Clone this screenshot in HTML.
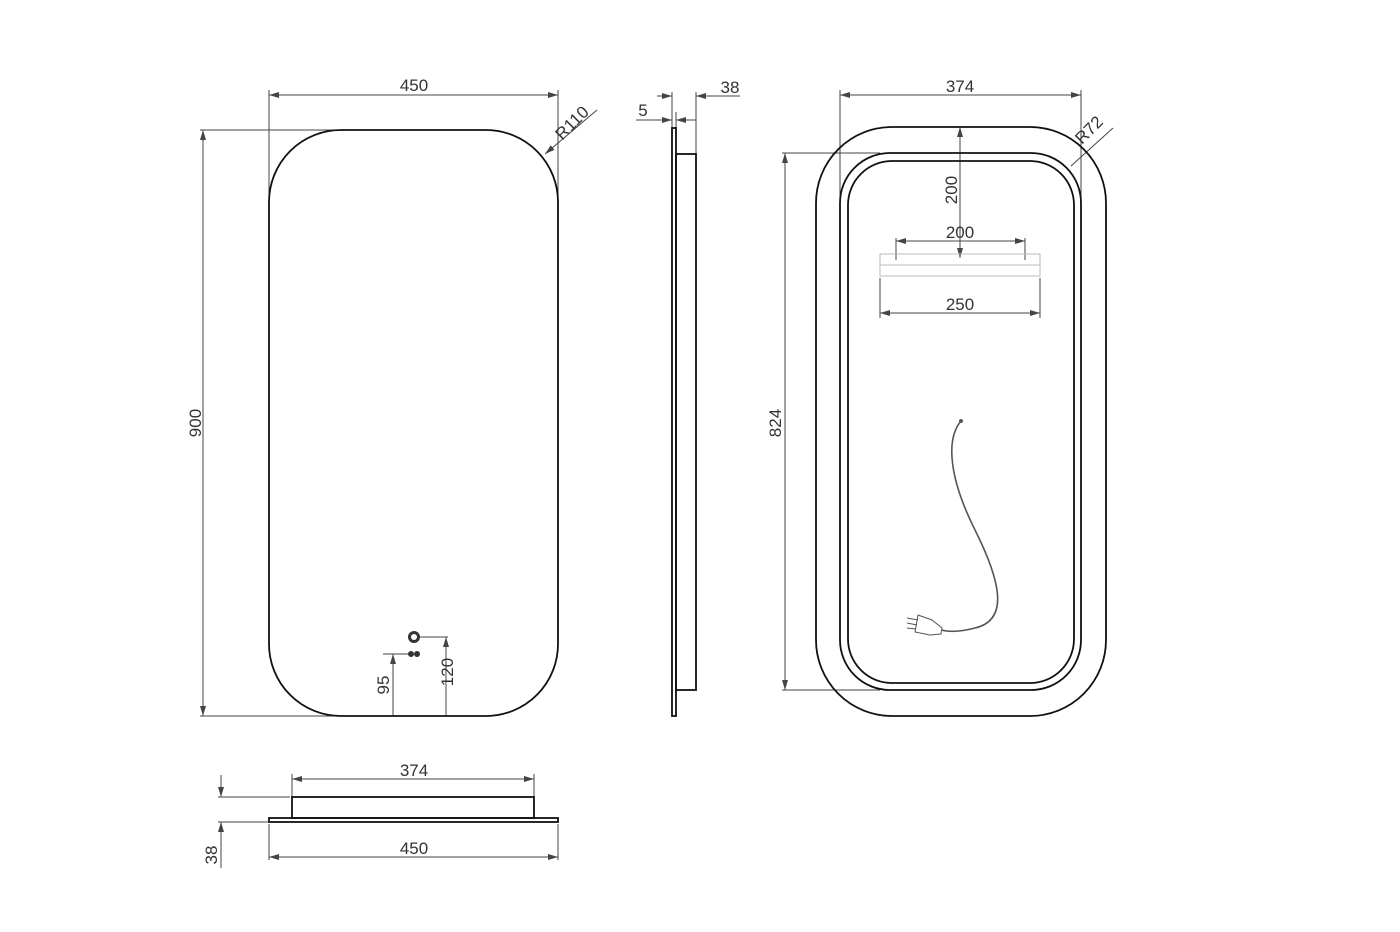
<!DOCTYPE html>
<html><head><meta charset="utf-8"><style>html,body{margin:0;padding:0;background:#fff}svg{display:block}</style></head>
<body>
<svg width="1400" height="932" viewBox="0 0 1400 932" xmlns="http://www.w3.org/2000/svg" font-family="Liberation Sans, sans-serif" font-size="17" fill="#333">
<defs>
<marker id="a" viewBox="0 0 10 6" refX="10" refY="3" markerWidth="10" markerHeight="6" orient="auto-start-reverse" markerUnits="userSpaceOnUse"><path d="M0,0 L10,3 L0,6 z" fill="#444"/></marker>
</defs>
<g stroke="#444" stroke-width="1" fill="none">
<line x1="269" y1="90" x2="269" y2="200"/><line x1="558" y1="90" x2="558" y2="200"/>
<line x1="269" y1="95" x2="558" y2="95" marker-start="url(#a)" marker-end="url(#a)"/>
<line x1="200" y1="130" x2="345" y2="130"/><line x1="200" y1="716" x2="345" y2="716"/>
<line x1="203" y1="130" x2="203" y2="716" marker-start="url(#a)" marker-end="url(#a)"/>
<line x1="597" y1="110" x2="545" y2="154" marker-end="url(#a)"/>
<line x1="383" y1="654" x2="410" y2="654"/><line x1="393" y1="654" x2="393" y2="716" marker-start="url(#a)"/>
<line x1="420" y1="637" x2="448" y2="637"/><line x1="446" y1="637" x2="446" y2="716" marker-start="url(#a)"/>
<line x1="672" y1="92" x2="672" y2="128"/><line x1="696" y1="92" x2="696" y2="154"/><line x1="676" y1="112" x2="676" y2="128"/>
<line x1="657" y1="96" x2="672" y2="96" marker-end="url(#a)"/><line x1="740" y1="96" x2="696" y2="96" marker-end="url(#a)"/>
<line x1="636" y1="120" x2="672" y2="120" marker-end="url(#a)"/><line x1="696" y1="120" x2="676" y2="120" marker-end="url(#a)"/>
<line x1="840" y1="90" x2="840" y2="200"/><line x1="1081" y1="90" x2="1081" y2="200"/>
<line x1="840" y1="95" x2="1081" y2="95" marker-start="url(#a)" marker-end="url(#a)"/>
<line x1="782" y1="153" x2="880" y2="153"/><line x1="782" y1="690" x2="880" y2="690"/>
<line x1="785" y1="153" x2="785" y2="690" marker-start="url(#a)" marker-end="url(#a)"/>
<line x1="1113" y1="128" x2="1071" y2="166"/>
<line x1="960" y1="127" x2="960" y2="258" marker-start="url(#a)" marker-end="url(#a)"/>
<line x1="896" y1="238" x2="896" y2="260"/><line x1="1025" y1="238" x2="1025" y2="260"/>
<line x1="896" y1="241" x2="1025" y2="241" marker-start="url(#a)" marker-end="url(#a)"/>
<line x1="880" y1="278" x2="880" y2="318"/><line x1="1040" y1="278" x2="1040" y2="318"/>
<line x1="880" y1="313" x2="1040" y2="313" marker-start="url(#a)" marker-end="url(#a)"/>
<line x1="292" y1="774" x2="292" y2="797"/><line x1="534" y1="774" x2="534" y2="797"/>
<line x1="292" y1="779" x2="534" y2="779" marker-start="url(#a)" marker-end="url(#a)"/>
<line x1="269" y1="824" x2="269" y2="860"/><line x1="558" y1="824" x2="558" y2="860"/>
<line x1="269" y1="857" x2="558" y2="857" marker-start="url(#a)" marker-end="url(#a)"/>
<line x1="218" y1="797" x2="290" y2="797"/><line x1="218" y1="822" x2="268" y2="822"/>
<line x1="221" y1="775" x2="221" y2="797" marker-end="url(#a)"/>
<line x1="221" y1="868" x2="221" y2="822" marker-end="url(#a)"/>
</g>
<g stroke="#111" stroke-width="1.8" fill="none">
<rect x="269" y="130" width="289" height="586" rx="72" ry="72"/>
<rect x="672" y="128" width="4" height="588"/>
<rect x="676" y="154" width="20" height="536"/>
<rect x="816" y="127" width="290" height="589" rx="76" ry="76"/>
<rect x="840" y="153" width="241" height="537" rx="50" ry="50"/>
<rect x="848" y="161" width="226" height="522" rx="44" ry="44"/>
<rect x="292" y="797" width="242" height="21"/>
<rect x="269" y="818" width="289" height="4"/>
</g>
<g stroke="#bbb" stroke-width="1" fill="none"><rect x="880" y="254" width="160" height="22"/><line x1="880" y1="265" x2="1040" y2="265"/></g>
<circle cx="414" cy="637" r="6" fill="#333"/><circle cx="414" cy="637" r="3" fill="#fff"/>
<circle cx="411" cy="654" r="3" fill="#333"/><circle cx="417" cy="654" r="3" fill="#333"/>
<path d="M961,421 C945,440 950,480 975,530 C1000,580 1010,620 975,628 C960,632 948,632 942,630" stroke="#555" stroke-width="1.6" fill="none"/>
<circle cx="961" cy="421" r="2" fill="#555"/>
<g stroke="#555" stroke-width="1" fill="#fff"><path d="M918,615 L932,620 L942,628 L941,634 L930,635 L915,632 z"/><line x1="907" y1="618" x2="918" y2="620"/><line x1="907" y1="623" x2="917" y2="625"/><line x1="907" y1="628" x2="916" y2="629"/></g>
<g text-anchor="middle">
<text x="414" y="91">450</text>
<text x="960" y="92">374</text>
<text x="730" y="93">38</text>
<text x="643" y="116">5</text>
<text x="960" y="238">200</text>
<text x="960" y="310">250</text>
<text x="414" y="776">374</text>
<text x="414" y="854">450</text>
<text transform="translate(201,423) rotate(-90)">900</text>
<text transform="translate(781,423) rotate(-90)">824</text>
<text transform="translate(957,190) rotate(-90)">200</text>
<text transform="translate(389,685) rotate(-90)">95</text>
<text transform="translate(453,672) rotate(-90)">120</text>
<text transform="translate(217,855) rotate(-90)">38</text>
<text transform="translate(576,127) rotate(-45)">R110</text>
<text transform="translate(1093,134) rotate(-45)">R72</text>
</g>
</svg>
</body></html>
